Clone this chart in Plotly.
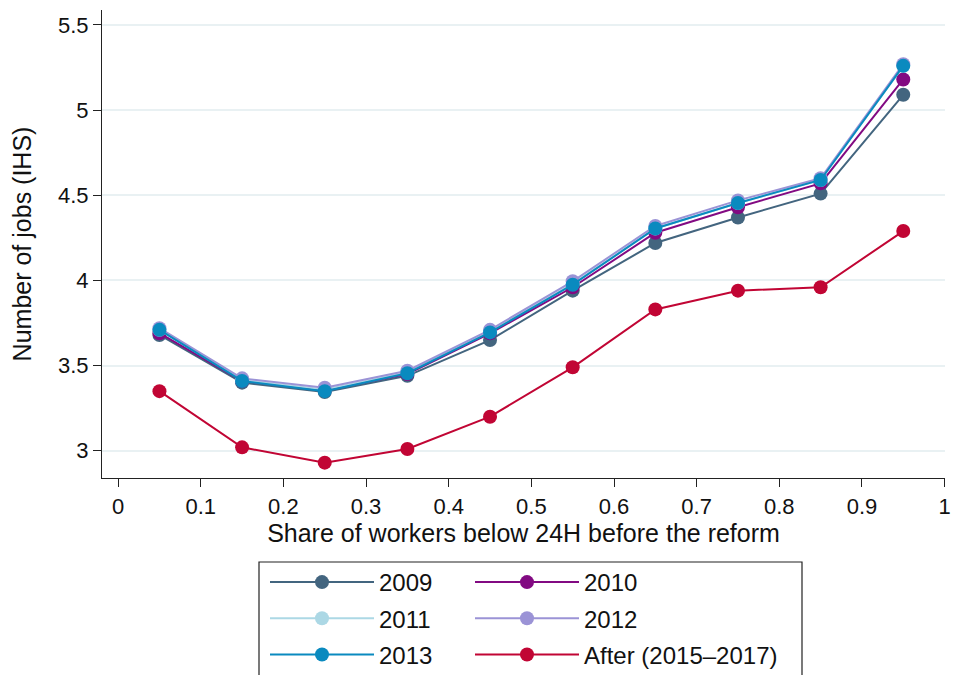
import plotly.graph_objects as go

# Share of workers below 24H before the reform (bin midpoints)
share = [0.05, 0.15, 0.25, 0.35, 0.45, 0.55, 0.65, 0.75, 0.85, 0.95]

# Number of jobs (IHS) by year
jobs_2009 = [3.68, 3.40, 3.345, 3.44, 3.65, 3.94, 4.22, 4.37, 4.51, 5.09]
jobs_2010 = [3.69, 3.41, 3.355, 3.45, 3.69, 3.96, 4.28, 4.43, 4.57, 5.18]
jobs_2011 = [3.71, 3.415, 3.36, 3.46, 3.70, 3.98, 4.305, 4.455, 4.59, 5.26]
jobs_2012 = [3.72, 3.425, 3.37, 3.47, 3.71, 3.995, 4.32, 4.47, 4.60, 5.27]
jobs_2013 = [3.71, 3.41, 3.35, 3.455, 3.695, 3.975, 4.305, 4.455, 4.59, 5.26]
jobs_after = [3.35, 3.02, 2.93, 3.01, 3.20, 3.49, 3.83, 3.94, 3.96, 4.29]

x_ticks = [0, 0.1, 0.2, 0.3, 0.4, 0.5, 0.6, 0.7, 0.8, 0.9, 1]
y_ticks = [3, 3.5, 4, 4.5, 5, 5.5]

series = [
    ("2009", jobs_2009, "#43657f", "legend"),
    ("2010", jobs_2010, "#820a82", "legend2"),
    ("2011", jobs_2011, "#acd8e5", "legend"),
    ("2012", jobs_2012, "#9b93d6", "legend2"),
    ("2013", jobs_2013, "#0a8abf", "legend"),
    ("After (2015–2017)", jobs_after, "#c10534", "legend2"),
]

FONT = "Liberation Sans, Arial, Helvetica, sans-serif"

fig = go.Figure()
for name, vals, color, leg in series:
    fig.add_trace(go.Scatter(
        x=share, y=vals, name=name, mode="lines+markers",
        line=dict(color=color, width=2),
        marker=dict(color=color, size=14),
        legend=leg, legendgroup=name,
    ))

# Plotting area in pixels
W, H = 953, 675
ml, mr, mt, mb = 102, 8, 10, 197
pw, ph = W - ml - mr, H - mt - mb

def px_x(p):
    return (p - ml) / pw

def px_y(p):
    return (H - mb - p) / ph

legend_style = dict(
    xanchor="left", yanchor="top", orientation="v",
    font=dict(size=24), bgcolor="rgba(0,0,0,0)",
    tracegroupgap=2, itemwidth=104,
)

fig.update_layout(
    width=W, height=H,
    margin=dict(l=ml, r=mr, t=mt, b=mb, autoexpand=False),
    paper_bgcolor="white", plot_bgcolor="white",
    font=dict(family=FONT, size=21, color="#111"),
    xaxis=dict(
        range=[-0.0195, 1.0005], tickvals=x_ticks,
        ticks="outside", ticklen=8, tickcolor="#222", tickwidth=1,
        showline=True, linecolor="#222", linewidth=1.2,
        showgrid=False, zeroline=False,
        title=dict(text="Share of workers below 24H before the reform", standoff=2),
        tickfont=dict(size=22),
    ),
    yaxis=dict(
        range=[2.84, 5.588], tickvals=y_ticks,
        ticks="outside", ticklen=8, tickcolor="#222", tickwidth=1,
        showline=True, linecolor="#222", linewidth=1.2,
        showgrid=True, gridcolor="#e9f1f3", gridwidth=1.5,
        zeroline=False,
        title=dict(text="Number of jobs (IHS)", standoff=19),
        tickfont=dict(size=22),
    ),
    legend=dict(x=px_x(265), y=px_y(560), **legend_style),
    legend2=dict(x=px_x(470), y=px_y(560), **legend_style),
    showlegend=True,
    shapes=[dict(
        type="rect", xref="paper", yref="paper",
        x0=px_x(259), x1=px_x(802), y0=px_y(562), y1=px_y(680),
        line=dict(color="#222", width=1.2), fillcolor="rgba(0,0,0,0)",
    )],
)

fig.write_html("out.html")
